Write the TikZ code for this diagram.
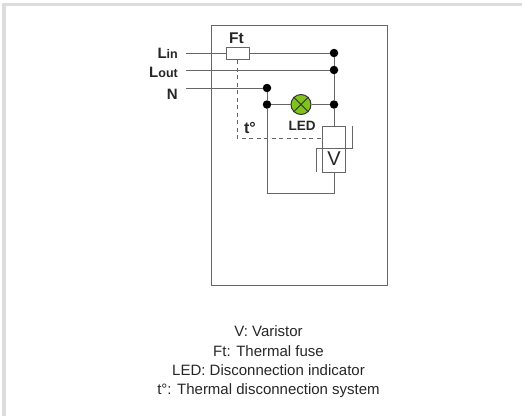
\documentclass[tikz,border=0pt]{standalone}
\usepackage{fontspec}
\setmainfont{Liberation Sans}
\definecolor{wire}{HTML}{666666}
\definecolor{frameg}{HTML}{DCDCDC}
\definecolor{ledg}{HTML}{7FC31C}
\tikzset{
  wireline/.style={draw=wire,line width=1pt},
  thinwire/.style={draw=wire,line width=0.95pt},
  dashline/.style={draw=wire,line width=1pt,dash pattern=on 4pt off 3.5pt},
  junction/.style={circle,fill=black,inner sep=0pt,minimum size=8.5pt},
  comp/.style={draw=wire,line width=1pt,inner sep=0pt},
  term/.style={font=\bfseries\fontsize{15}{17}\selectfont,text=black!85,inner sep=0pt},
  captext/.style={font=\fontsize{15}{17}\selectfont,text=black!85,inner sep=0pt},
}
\begin{document}
\begin{tikzpicture}[x=1pt,y=-1pt]
\useasboundingbox (0,0) rectangle (522,416);
\fill[frameg] (2,3) rectangle (522,6);
\fill[frameg] (2,3) rectangle (6,416);
\node[comp,minimum width=176pt,minimum height=260pt] (box) at (299,155) {};
% terminals
\coordinate (lin) at (186,53);
\coordinate (lout) at (186,70);
\coordinate (nin) at (186,88);
\node[comp,fill=white,minimum width=23pt,minimum height=12pt] (fuse) at (237.5,53) {};
\node[junction] (j1) at (334,53) {};
\node[junction] (j2) at (334,70) {};
\node[junction] (j3) at (334,104.5) {};
\node[junction] (j4) at (267,88) {};
\node[junction] (j5) at (267,104.5) {};
\node[circle,draw=black!80,line width=1pt,fill=ledg,minimum size=20pt,inner sep=0pt] (led) at (301,104.5) {};
\node[comp,minimum width=23pt,minimum height=46pt] (var) at (333.5,149) {};
\coordinate (vtop) at (334,126);
\coordinate (vbot) at (334,172);
\coordinate (cbr) at (334,193);
\coordinate (cbl) at (267,193);
\coordinate (bl) at (316,148);
\coordinate (blb) at (316,172);
\coordinate (br) at (352,148);
\coordinate (brt) at (352,126);
\coordinate (d0) at (237,60);
\coordinate (d1) at (237,138);
\coordinate (d2) at (322,138);
% wires
\draw[wireline] (lin) -- (fuse.west) (fuse.east) -- (j1);
\draw[thinwire] (lout) -- (j2);
\draw[thinwire] (nin) -- (j4);
\draw[wireline] (j1) -- (j2) -- (j3) -- (vtop);
\draw[wireline] (j4) -- (j5) -- (cbl) -- (cbr) -- (vbot);
\draw[wireline] (j5) -- (led) -- (j3);
\draw[black!80,line width=1pt] (led.north west) -- (led.south east) (led.north east) -- (led.south west);
\draw[thinwire] (blb) -- (bl) -- (br) -- (brt);
\draw[dashline] (d0) -- (d1) -- (d2);
% labels
\node[term,font=\bfseries\fontsize{15.5}{17}\selectfont] (ft) at (236.5,38) {Ft};
\node[term,anchor=east] (tlin) at (178,53) {L\fontsize{12.5}{14}\selectfont in};
\node[term,anchor=east] (tlout) at (178,72) {L\fontsize{12.5}{14}\selectfont out};
\node[term,anchor=east] (tn) at (178,94) {N};
\node[term,font=\bfseries\fontsize{16}{18}\selectfont] (tt) at (250,128) {t°};
\node[term,font=\bfseries\fontsize{13.5}{15}\selectfont] (tled) at (302,125.5) {LED};
\node[term,font=\fontsize{20}{22}\selectfont] (tv) at (334,158.5) {V};
\node[captext] (c1) at (268.5,331) {V: Varistor};
\node[captext] (c2) at (268.5,351) {Ft: Thermal fuse};
\node[captext] (c3) at (268.5,370.5) {LED: Disconnection indicator};
\node[captext] (c4) at (268.5,390.5) {t°: Thermal disconnection system};
\end{tikzpicture}
\end{document}
